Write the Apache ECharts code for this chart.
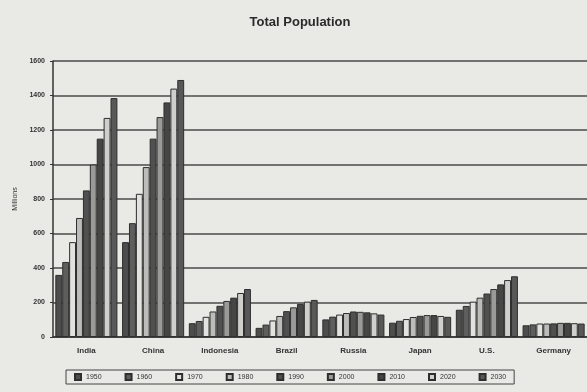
<!DOCTYPE html>
<html>
<head>
<meta charset="utf-8">
<script src="https://cdn.jsdelivr.net/npm/echarts@6/dist/echarts.min.js"></script>
<style>html,body{margin:0;padding:0;background:#e9e9e6;}#c{width:587px;height:392px;}</style>
</head>
<body>
<div id="c"></div>
<script>
const categories = ['India', 'China', 'Indonesia', 'Brazil', 'Russia', 'Japan', 'U.S.', 'Germany'];
const years = ['1950', '1960', '1970', '1980', '1990', '2000', '2010', '2020', '2030'];
const v1950 = [360, 550, 80, 53, 102, 83, 158, 68];
const v1960 = [435, 660, 93, 72, 118, 94, 180, 73];
const v1970 = [550, 830, 117, 96, 130, 104, 205, 78];
const v1980 = [690, 985, 148, 122, 139, 116, 228, 78];
const v1990 = [850, 1150, 181, 150, 148, 123, 252, 79];
const v2000 = [1000, 1275, 209, 172, 146, 127, 278, 82];
const v2010 = [1150, 1360, 228, 192, 143, 127, 305, 82];
const v2020 = [1270, 1440, 255, 205, 137, 122, 330, 80];
const v2030 = [1385, 1490, 278, 215, 130, 117, 352, 78];
const seriesValues = [v1950, v1960, v1970, v1980, v1990, v2000, v2010, v2020, v2030];
const yTicks = [0, 200, 400, 600, 800, 1000, 1200, 1400, 1600];

const fills = ['#4d4d4d', '#5e5e5e', '#e2e2e0', '#bcbcba', '#505050', '#9a9a98', '#464646', '#cfcfcd', '#585858'];

const chart = echarts.init(document.getElementById('c'));
chart.setOption({
  backgroundColor: '#e9e9e6',
  animation: false,
  title: {
    text: 'Total Population',
    left: 295, top: 11, textAlign: 'center',
    textStyle: {fontFamily: 'Liberation Sans', fontWeight: 'bold', fontSize: 13, color: '#2a2a2a'}
  },
  legend: {
    data: years,
    left: 66, top: 370, width: 450,
    itemWidth: 6, itemHeight: 6, itemGap: 23,
    borderColor: '#444', borderWidth: 1, padding: [3, 8],
    icon: 'rect',
    textStyle: {fontFamily: 'Liberation Sans', fontSize: 7, color: '#333'}
  },
  grid: {left: 53, width: 536, top: 61, bottom: 55},
  xAxis: {
    type: 'category', data: categories,
    axisLine: {lineStyle: {color: '#333', width: 1.5}},
    axisTick: {show: false},
    axisLabel: {fontFamily: 'Liberation Sans', fontSize: 8, fontWeight: 'bold', color: '#333', margin: 10}
  },
  yAxis: {
    type: 'value', min: yTicks[0], max: yTicks[yTicks.length - 1], interval: 200,
    name: 'Millions', nameLocation: 'middle', nameGap: 32,
    nameTextStyle: {fontFamily: 'Liberation Sans', fontSize: 7, color: '#333'},
    axisLine: {show: true, lineStyle: {color: '#333', width: 1.5}},
    axisTick: {show: true, length: 3, lineStyle: {color: '#333'}},
    axisLabel: {fontFamily: 'Liberation Sans', fontSize: 7, fontWeight: 'bold', color: '#333', formatter: v => String(v)},
    splitLine: {lineStyle: {color: '#4a4a4a', width: 1.5}}
  },
  series: years.map((y, i) => ({
    name: y, type: 'bar', data: seriesValues[i],
    barGap: '0%', barCategoryGap: '7%',
    itemStyle: {color: fills[i], borderColor: '#2e2e2e', borderWidth: 1}
  }))
});
</script>
</body>
</html>
